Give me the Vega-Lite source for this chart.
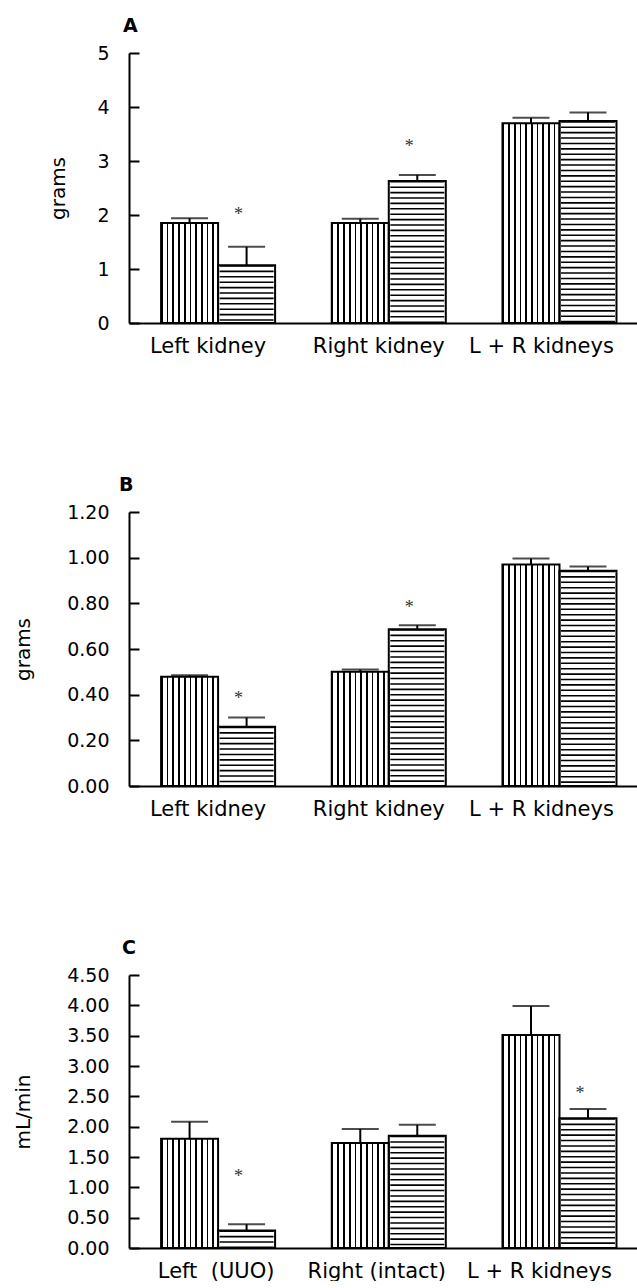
{
  "$schema": "https://vega.github.io/schema/vega-lite/v6.json",
  "padding": {"left": 13, "top": 17, "right": 0, "bottom": 0},
  "spacing": 120,
  "datasets": {
    "d": [
      {"p": "A", "g": "Left kidney", "s": "v", "mean": 1.85, "upper": 1.94},
      {"p": "A", "g": "Left kidney", "s": "h", "mean": 1.07, "upper": 1.41, "star": 2.07},
      {"p": "A", "g": "Right kidney", "s": "v", "mean": 1.85, "upper": 1.93},
      {"p": "A", "g": "Right kidney", "s": "h", "mean": 2.63, "upper": 2.74, "star": 3.33},
      {"p": "A", "g": "L + R kidneys", "s": "v", "mean": 3.70, "upper": 3.80},
      {"p": "A", "g": "L + R kidneys", "s": "h", "mean": 3.74, "upper": 3.90},
      {"p": "B", "g": "Left kidney", "s": "v", "mean": 0.478, "upper": 0.485},
      {"p": "B", "g": "Left kidney", "s": "h", "mean": 0.26, "upper": 0.30, "star": 0.40},
      {"p": "B", "g": "Right kidney", "s": "v", "mean": 0.50, "upper": 0.51},
      {"p": "B", "g": "Right kidney", "s": "h", "mean": 0.687, "upper": 0.704, "star": 0.796},
      {"p": "B", "g": "L + R kidneys", "s": "v", "mean": 0.97, "upper": 0.996},
      {"p": "B", "g": "L + R kidneys", "s": "h", "mean": 0.943, "upper": 0.961},
      {"p": "C", "g": "Left\u00a0 (UUO)", "s": "v", "mean": 1.80, "upper": 2.08},
      {"p": "C", "g": "Left\u00a0 (UUO)", "s": "h", "mean": 0.29, "upper": 0.39, "star": 1.24},
      {"p": "C", "g": "Right (intact)", "s": "v", "mean": 1.73, "upper": 1.96},
      {"p": "C", "g": "Right (intact)", "s": "h", "mean": 1.85, "upper": 2.03},
      {"p": "C", "g": "L + R kidneys", "s": "v", "mean": 3.51, "upper": 3.99},
      {"p": "C", "g": "L + R kidneys", "s": "h", "mean": 2.14, "upper": 2.29, "star": 2.61}
    ]
  },
  "vconcat": [
    {
      "width": 508, "height": 270,
      "title": {"text": "A", "anchor": "start", "frame": "group", "dx": -6, "offset": 8, "font": "DejaVu Sans", "fontSize": 19, "fontWeight": "bold", "color": "black"},
      "data": {"name": "d"},
      "transform": [{"filter": "datum.p === 'A'"}],
      "encoding": {
        "x": {"field": "g", "type": "nominal", "sort": ["Left kidney", "Right kidney", "L + R kidneys"],
          "scale": {"paddingInner": 0.332, "paddingOuter": 0.154, "align": 0.61},
          "axis": {"title": null, "ticks": false, "labelAngle": 0, "labelFontSize": 21, "labelPadding": 12,
            "labelOffset": {"condition": {"test": "datum.value === 'L + R kidneys'", "value": -18}, "value": -10}}},
        "xOffset": {"field": "s", "type": "nominal", "sort": ["v", "h"], "scale": {"paddingInner": 0, "paddingOuter": 0}},
        "y": {"field": "mean", "type": "quantitative", "scale": {"domain": [0, 5], "nice": false},
          "axis": {"title": "grams", "values": [0, 1, 2, 3, 4, 5], "format": "d", "tickSize": -10, "labelPadding": 30,
            "labelFontSize": 19, "titleFontSize": 20, "titlePadding": 28}}
      },
      "layer": [
        {"transform": [{"filter": "datum.s === 'v'"}], "mark": {"type": "bar", "strokeWidth": 0, "fill": {"gradient": "linear", "x1": 0, "y1": 0, "x2": 1, "y2": 0, "stops": [
        {"offset": 0, "color": "#000"}, {"offset": 0.03, "color": "#000"}, {"offset": 0.03, "color": "#fff"}, {"offset": 0.1, "color": "#fff"},
        {"offset": 0.1, "color": "#000"}, {"offset": 0.13, "color": "#000"}, {"offset": 0.13, "color": "#fff"}, {"offset": 0.2, "color": "#fff"},
        {"offset": 0.2, "color": "#000"}, {"offset": 0.23, "color": "#000"}, {"offset": 0.23, "color": "#fff"}, {"offset": 0.3, "color": "#fff"},
        {"offset": 0.3, "color": "#000"}, {"offset": 0.33, "color": "#000"}, {"offset": 0.33, "color": "#fff"}, {"offset": 0.4, "color": "#fff"},
        {"offset": 0.4, "color": "#000"}, {"offset": 0.43, "color": "#000"}, {"offset": 0.43, "color": "#fff"}, {"offset": 0.5, "color": "#fff"},
        {"offset": 0.5, "color": "#000"}, {"offset": 0.53, "color": "#000"}, {"offset": 0.53, "color": "#fff"}, {"offset": 0.6, "color": "#fff"},
        {"offset": 0.6, "color": "#000"}, {"offset": 0.63, "color": "#000"}, {"offset": 0.63, "color": "#fff"}, {"offset": 0.7, "color": "#fff"},
        {"offset": 0.7, "color": "#000"}, {"offset": 0.73, "color": "#000"}, {"offset": 0.73, "color": "#fff"}, {"offset": 0.8, "color": "#fff"},
        {"offset": 0.8, "color": "#000"}, {"offset": 0.83, "color": "#000"}, {"offset": 0.83, "color": "#fff"}, {"offset": 0.9, "color": "#fff"},
        {"offset": 0.9, "color": "#000"}, {"offset": 0.93, "color": "#000"}, {"offset": 0.93, "color": "#fff"}, {"offset": 1, "color": "#fff"}]}}},
        {"transform": [{"filter": "datum.s === 'h'"}], "mark": {"type": "bar", "fill": "white", "strokeWidth": 0}},
        {"transform": [{"filter": "datum.s === 'h'"}], "mark": {"type": "rule", "style": "hatch"}, "encoding": {"y2": {"datum": 0}}},
        {"mark": {"type": "bar", "style": "outline"}},
        {"mark": {"type": "rule", "color": "black", "strokeWidth": 2}, "encoding": {"y2": {"field": "upper"}}},
        {"mark": {"type": "tick", "color": "black", "thickness": 2}, "encoding": {"y": {"field": "upper", "type": "quantitative"}, "size": {"value": 37}}},
        {"transform": [{"filter": "isValid(datum.star)"}], "mark": {"type": "text", "style": "star"}, "encoding": {"y": {"field": "star", "type": "quantitative"}}}
      ]
    },
    {
      "width": 508, "height": 274,
      "title": {"text": "B", "anchor": "start", "frame": "group", "dx": -10, "offset": 8, "font": "DejaVu Sans", "fontSize": 19, "fontWeight": "bold", "color": "black"},
      "data": {"name": "d"},
      "transform": [{"filter": "datum.p === 'B'"}],
      "encoding": {
        "x": {"field": "g", "type": "nominal", "sort": ["Left kidney", "Right kidney", "L + R kidneys"],
          "scale": {"paddingInner": 0.332, "paddingOuter": 0.154, "align": 0.61},
          "axis": {"title": null, "ticks": false, "labelAngle": 0, "labelFontSize": 21, "labelPadding": 12,
            "labelOffset": {"condition": {"test": "datum.value === 'L + R kidneys'", "value": -18}, "value": -10}}},
        "xOffset": {"field": "s", "type": "nominal", "sort": ["v", "h"], "scale": {"paddingInner": 0, "paddingOuter": 0}},
        "y": {"field": "mean", "type": "quantitative", "scale": {"domain": [0, 1.2], "nice": false},
          "axis": {"title": "grams", "values": [0, 0.2, 0.4, 0.6, 0.8, 1.0, 1.2], "format": ".2f", "tickSize": -10, "labelPadding": 30,
            "labelFontSize": 19, "titleFontSize": 20, "titlePadding": 33}}
      },
      "layer": [
        {"transform": [{"filter": "datum.s === 'v'"}], "mark": {"type": "bar", "strokeWidth": 0, "fill": {"gradient": "linear", "x1": 0, "y1": 0, "x2": 1, "y2": 0, "stops": [
        {"offset": 0, "color": "#000"}, {"offset": 0.03, "color": "#000"}, {"offset": 0.03, "color": "#fff"}, {"offset": 0.1, "color": "#fff"},
        {"offset": 0.1, "color": "#000"}, {"offset": 0.13, "color": "#000"}, {"offset": 0.13, "color": "#fff"}, {"offset": 0.2, "color": "#fff"},
        {"offset": 0.2, "color": "#000"}, {"offset": 0.23, "color": "#000"}, {"offset": 0.23, "color": "#fff"}, {"offset": 0.3, "color": "#fff"},
        {"offset": 0.3, "color": "#000"}, {"offset": 0.33, "color": "#000"}, {"offset": 0.33, "color": "#fff"}, {"offset": 0.4, "color": "#fff"},
        {"offset": 0.4, "color": "#000"}, {"offset": 0.43, "color": "#000"}, {"offset": 0.43, "color": "#fff"}, {"offset": 0.5, "color": "#fff"},
        {"offset": 0.5, "color": "#000"}, {"offset": 0.53, "color": "#000"}, {"offset": 0.53, "color": "#fff"}, {"offset": 0.6, "color": "#fff"},
        {"offset": 0.6, "color": "#000"}, {"offset": 0.63, "color": "#000"}, {"offset": 0.63, "color": "#fff"}, {"offset": 0.7, "color": "#fff"},
        {"offset": 0.7, "color": "#000"}, {"offset": 0.73, "color": "#000"}, {"offset": 0.73, "color": "#fff"}, {"offset": 0.8, "color": "#fff"},
        {"offset": 0.8, "color": "#000"}, {"offset": 0.83, "color": "#000"}, {"offset": 0.83, "color": "#fff"}, {"offset": 0.9, "color": "#fff"},
        {"offset": 0.9, "color": "#000"}, {"offset": 0.93, "color": "#000"}, {"offset": 0.93, "color": "#fff"}, {"offset": 1, "color": "#fff"}]}}},
        {"transform": [{"filter": "datum.s === 'h'"}], "mark": {"type": "bar", "fill": "white", "strokeWidth": 0}},
        {"transform": [{"filter": "datum.s === 'h'"}], "mark": {"type": "rule", "style": "hatch"}, "encoding": {"y2": {"datum": 0}}},
        {"mark": {"type": "bar", "style": "outline"}},
        {"mark": {"type": "rule", "color": "black", "strokeWidth": 2}, "encoding": {"y2": {"field": "upper"}}},
        {"mark": {"type": "tick", "color": "black", "thickness": 2}, "encoding": {"y": {"field": "upper", "type": "quantitative"}, "size": {"value": 37}}},
        {"transform": [{"filter": "isValid(datum.star)"}], "mark": {"type": "text", "style": "star"}, "encoding": {"y": {"field": "star", "type": "quantitative"}}}
      ]
    },
    {
      "width": 508, "height": 273,
      "title": {"text": "C", "anchor": "start", "frame": "group", "dx": -7, "offset": 8, "font": "DejaVu Sans", "fontSize": 19, "fontWeight": "bold", "color": "black"},
      "data": {"name": "d"},
      "transform": [{"filter": "datum.p === 'C'"}],
      "encoding": {
        "x": {"field": "g", "type": "nominal", "sort": ["Left\u00a0 (UUO)", "Right (intact)", "L + R kidneys"],
          "scale": {"paddingInner": 0.332, "paddingOuter": 0.154, "align": 0.61},
          "axis": {"title": null, "ticks": false, "labelAngle": 0, "labelFontSize": 21, "labelPadding": 12,
            "labelOffset": {"condition": [{"test": "datum.value === 'L + R kidneys'", "value": -20}, {"test": "datum.value === 'Right (intact)'", "value": -12}], "value": -2}}},
        "xOffset": {"field": "s", "type": "nominal", "sort": ["v", "h"], "scale": {"paddingInner": 0, "paddingOuter": 0}},
        "y": {"field": "mean", "type": "quantitative", "scale": {"domain": [0, 4.5], "nice": false},
          "axis": {"title": "mL/min", "values": [0, 0.5, 1, 1.5, 2, 2.5, 3, 3.5, 4, 4.5], "format": ".2f", "tickSize": -10, "labelPadding": 30,
            "labelFontSize": 19, "titleFontSize": 20, "titlePadding": 33}}
      },
      "layer": [
        {"transform": [{"filter": "datum.s === 'v'"}], "mark": {"type": "bar", "strokeWidth": 0, "fill": {"gradient": "linear", "x1": 0, "y1": 0, "x2": 1, "y2": 0, "stops": [
        {"offset": 0, "color": "#000"}, {"offset": 0.03, "color": "#000"}, {"offset": 0.03, "color": "#fff"}, {"offset": 0.1, "color": "#fff"},
        {"offset": 0.1, "color": "#000"}, {"offset": 0.13, "color": "#000"}, {"offset": 0.13, "color": "#fff"}, {"offset": 0.2, "color": "#fff"},
        {"offset": 0.2, "color": "#000"}, {"offset": 0.23, "color": "#000"}, {"offset": 0.23, "color": "#fff"}, {"offset": 0.3, "color": "#fff"},
        {"offset": 0.3, "color": "#000"}, {"offset": 0.33, "color": "#000"}, {"offset": 0.33, "color": "#fff"}, {"offset": 0.4, "color": "#fff"},
        {"offset": 0.4, "color": "#000"}, {"offset": 0.43, "color": "#000"}, {"offset": 0.43, "color": "#fff"}, {"offset": 0.5, "color": "#fff"},
        {"offset": 0.5, "color": "#000"}, {"offset": 0.53, "color": "#000"}, {"offset": 0.53, "color": "#fff"}, {"offset": 0.6, "color": "#fff"},
        {"offset": 0.6, "color": "#000"}, {"offset": 0.63, "color": "#000"}, {"offset": 0.63, "color": "#fff"}, {"offset": 0.7, "color": "#fff"},
        {"offset": 0.7, "color": "#000"}, {"offset": 0.73, "color": "#000"}, {"offset": 0.73, "color": "#fff"}, {"offset": 0.8, "color": "#fff"},
        {"offset": 0.8, "color": "#000"}, {"offset": 0.83, "color": "#000"}, {"offset": 0.83, "color": "#fff"}, {"offset": 0.9, "color": "#fff"},
        {"offset": 0.9, "color": "#000"}, {"offset": 0.93, "color": "#000"}, {"offset": 0.93, "color": "#fff"}, {"offset": 1, "color": "#fff"}]}}},
        {"transform": [{"filter": "datum.s === 'h'"}], "mark": {"type": "bar", "fill": "white", "strokeWidth": 0}},
        {"transform": [{"filter": "datum.s === 'h'"}], "mark": {"type": "rule", "style": "hatch"}, "encoding": {"y2": {"datum": 0}}},
        {"mark": {"type": "bar", "style": "outline"}},
        {"mark": {"type": "rule", "color": "black", "strokeWidth": 2}, "encoding": {"y2": {"field": "upper"}}},
        {"mark": {"type": "tick", "color": "black", "thickness": 2}, "encoding": {"y": {"field": "upper", "type": "quantitative"}, "size": {"value": 37}}},
        {"transform": [{"filter": "isValid(datum.star)"}], "mark": {"type": "text", "style": "star"}, "encoding": {"y": {"field": "star", "type": "quantitative"}}}
      ]
    }
  ],
  "config": {
    "view": {"stroke": null},
    "background": "white",
    "axis": {"labelFont": "DejaVu Sans", "titleFont": "DejaVu Sans", "labelColor": "black", "titleColor": "black",
      "domainColor": "black", "tickColor": "black", "domainWidth": 2, "tickWidth": 2, "grid": false, "titleFontWeight": "normal"},
    "style": {
      "hatch": {"color": "black", "strokeWidth": 54, "strokeDash": [1.6, 3.8], "strokeCap": "butt"},
      "outline": {"fillOpacity": 0, "stroke": "black", "strokeWidth": 2},
      "star": {"text": "*", "font": "Liberation Serif", "fontSize": 18, "color": "#333", "dx": -8, "dy": 4, "baseline": "middle"}
    }
  }
}
